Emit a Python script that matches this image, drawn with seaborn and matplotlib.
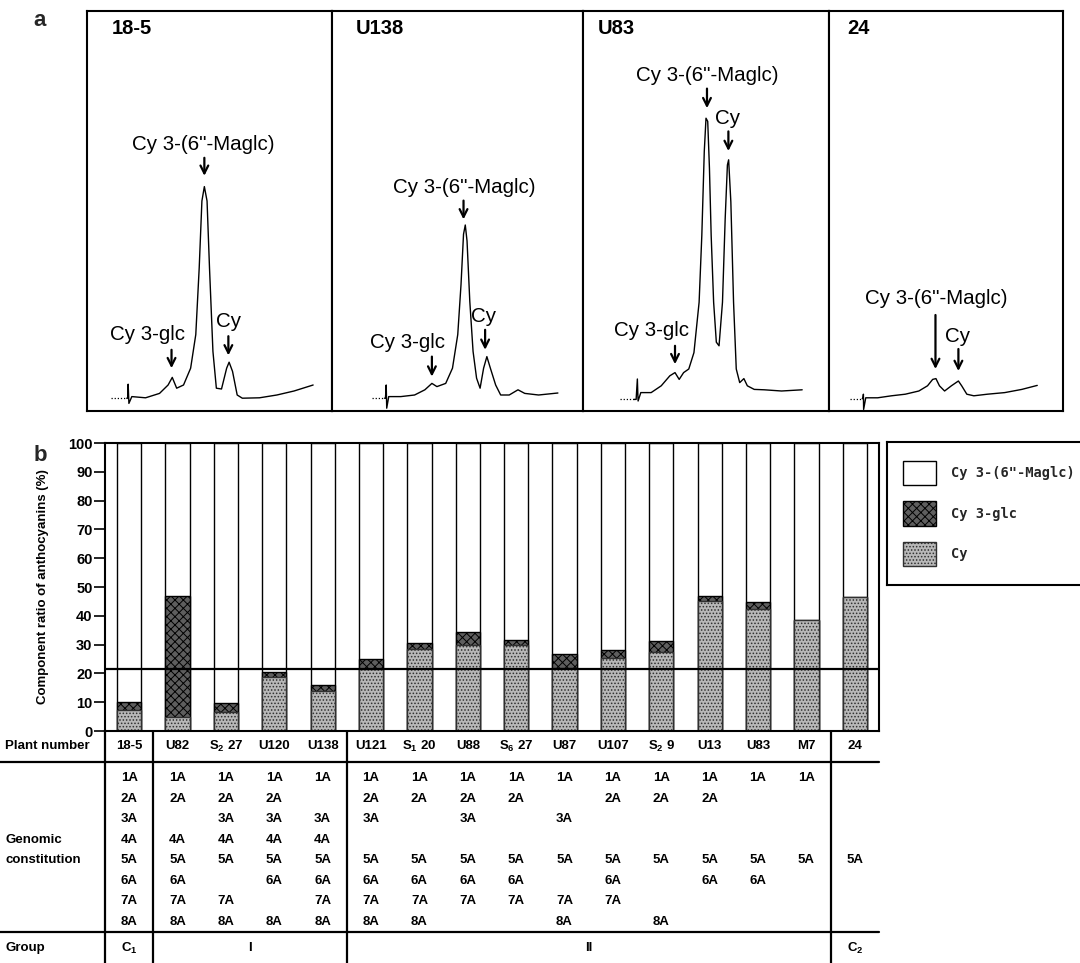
import numpy as np
import pandas as pd
import matplotlib
matplotlib.use('Agg')
import matplotlib.pyplot as plt
import seaborn as sns
from matplotlib.patches import Patch
from matplotlib.transforms import blended_transform_factory

sns.set_theme(style='white')
plt.rcParams['font.family'] = ['Liberation Sans', 'DejaVu Sans']
plt.rcParams['mathtext.fontset'] = 'custom'
plt.rcParams['mathtext.rm'] = 'Liberation Sans'
plt.rcParams['mathtext.bf'] = 'Liberation Sans:bold'
plt.rcParams['mathtext.default'] = 'bf'
plt.rcParams['hatch.linewidth'] = 0.7

# ---------------- data: panel a (chromatogram traces) ----------------
panel_titles = ['18-5', 'U138', 'U83', '24']

dot_18_5_x = [.096, .162]
dot_18_5_y = [.032, .032]
tr_18_5_x = [.162, .166, .168, .170, .171, .183, .239, .296, .331, .348, .366, .394, .423, .444, .458,
             .469, .479, .490, .500, .514, .528, .549, .570, .580, .594, .613, .634, .704, .775, .845, .923]
tr_18_5_y = [.032, .032, .067, .036, .019, .036, .033, .044, .065, .084, .057, .065, .107, .191, .358,
             .525, .561, .525, .358, .149, .057, .055, .107, .122, .099, .040, .032, .033, .040, .050, .065]

dot_u138_x = [.158, .209]
dot_u138_y = [.032, .032]
tr_u138_x = [.209, .213, .216, .217, .218, .226, .274, .329, .370, .398, .418, .453, .480, .501, .514,
             .524, .531, .538, .549, .562, .576, .590, .604, .617, .631, .652, .672, .706, .741, .768, .823, .900]
tr_u138_y = [.032, .032, .065, .036, .007, .036, .036, .040, .053, .069, .061, .069, .107, .191, .316,
             .442, .465, .425, .274, .149, .082, .057, .107, .136, .107, .065, .040, .040, .053, .044, .040, .045]

dot_u83_x = [.151, .207]
dot_u83_y = [.029, .029]
tr_u83_x = [.207, .216, .221, .223, .224, .235, .277, .318, .353, .374, .391, .409, .430, .451, .472,
            .483, .493, .500, .507, .514, .521, .531, .542, .553, .567, .578, .587, .592, .601, .612,
            .623, .637, .654, .668, .696, .737, .807, .891]
tr_u83_y = [.029, .029, .080, .040, .025, .046, .046, .063, .088, .096, .079, .096, .105, .146, .272,
            .439, .649, .732, .724, .607, .439, .272, .172, .163, .272, .481, .615, .628, .523, .272,
            .105, .071, .081, .063, .054, .053, .050, .053]

dot_24_x = [.091, .142]
dot_24_y = [.031, .031]
tr_24_x = [.142, .145, .147, .148, .157, .208, .267, .326, .384, .421, .443, .457, .472, .494, .523,
           .553, .567, .589, .619, .677, .751, .824, .890]
tr_24_y = [.031, .031, .042, .004, .033, .033, .038, .042, .050, .063, .079, .081, .063, .050, .063,
           .075, .063, .042, .038, .042, .046, .054, .064]

# ---------------- data: panel b ----------------
plants = ['18-5', 'U82', 'S$_2$ 27', 'U120', 'U138', 'U121', 'S$_1$ 20', 'U88', 'S$_6$ 27',
          'U87', 'U107', 'S$_2$ 9', 'U13', 'U83', 'M7', '24']
cy = [7.3, 4.8, 6.7, 18.9, 13.9, 21.7, 28.6, 30.0, 30.0, 22.0, 25.2, 27.4, 45.0, 42.5, 38.5, 46.5]
cy3glc = [2.7, 42.0, 2.9, 1.5, 2.1, 3.4, 2.0, 4.4, 1.5, 4.8, 2.8, 3.8, 1.8, 2.3, 0.0, 0.0]
maglc = [100 - a - b for a, b in zip(cy, cy3glc)]
reference_level = 21.7

chromosomes = ['1A', '2A', '3A', '4A', '5A', '6A', '7A', '8A']
genomes = [
    ['1A', '2A', '3A', '4A', '5A', '6A', '7A', '8A'],
    ['1A', '2A', '4A', '5A', '6A', '7A', '8A'],
    ['1A', '2A', '3A', '4A', '5A', '7A', '8A'],
    ['1A', '2A', '3A', '4A', '5A', '6A', '8A'],
    ['1A', '3A', '4A', '5A', '6A', '7A', '8A'],
    ['1A', '2A', '3A', '5A', '6A', '7A', '8A'],
    ['1A', '2A', '5A', '6A', '7A', '8A'],
    ['1A', '2A', '3A', '5A', '6A', '7A'],
    ['1A', '2A', '5A', '6A', '7A'],
    ['1A', '3A', '5A', '7A', '8A'],
    ['1A', '2A', '5A', '6A', '7A'],
    ['1A', '2A', '5A', '8A'],
    ['1A', '2A', '5A', '6A'],
    ['1A', '5A', '6A'],
    ['1A', '5A'],
    ['5A'],
]
group_labels = ['C$_1$', 'I', 'II', 'C$_2$']
group_spans = [(0, 0), (1, 4), (5, 14), (15, 15)]

legend_labels = ['Cy 3-(6"-Maglc)', 'Cy 3-glc', 'Cy']

# ---------------- layout ----------------
W, H = 1080, 963
def fx(px):
    return px / W
def fh(px):
    return px / H
def fy(py):
    return 1 - py / H

fig = plt.figure(figsize=(W / 100, H / 100), dpi=100)
fig.patch.set_facecolor('white')

# ---- panel a ----
edges = [87, 332, 583, 829, 1063]
a_top, a_bot = 11, 411
traces = [
    (dot_18_5_x, dot_18_5_y, tr_18_5_x, tr_18_5_y),
    (dot_u138_x, dot_u138_y, tr_u138_x, tr_u138_y),
    (dot_u83_x, dot_u83_y, tr_u83_x, tr_u83_y),
    (dot_24_x, dot_24_y, tr_24_x, tr_24_y),
]
title_x = [.099, .096, .060, .076]
annots = [
    [('Cy 3-(6"-Maglc)', .476, .665, .479, .633, .588),
     ('Cy 3-glc', .246, .191, .345, .153, .107),
     ('Cy', .577, .224, .577, .187, .139)],
    [('Cy 3-(6"-Maglc)', .528, .559, .524, .526, .479),
     ('Cy 3-glc', .302, .172, .398, .136, .086),
     ('Cy', .604, .237, .610, .203, .153)],
    [('Cy 3-(6"-Maglc)', .504, .839, .504, .806, .757),
     ('Cy', .588, .732, .591, .699, .650),
     ('Cy 3-glc', .277, .201, .374, .163, .117)],
    [('Cy 3-(6"-Maglc)', .457, .280, .455, .240, .105),
     ('Cy', .548, .186, .553, .155, .100)],
]
for k in range(4):
    ax = fig.add_axes([fx(edges[k]), fy(a_bot), fx(edges[k + 1] - edges[k]), fh(a_bot - a_top)])
    dx, dy, tx, ty = traces[k]
    sns.lineplot(x=dx, y=dy, sort=False, estimator=None, color='black', lw=0.9,
                 linestyle=(0, (1, 1.5)), ax=ax)
    sns.lineplot(x=tx, y=ty, sort=False, estimator=None, color='black', lw=1.0, ax=ax)
    ax.set_xlim(0, 1)
    ax.set_ylim(0, 1)
    ax.set_xticks([])
    ax.set_yticks([])
    ax.set_xlabel('')
    ax.set_ylabel('')
    for s in ax.spines.values():
        s.set_visible(True)
        s.set_color('black')
        s.set_linewidth(1.5)
    ax.text(title_x[k], .955, panel_titles[k], ha='left', va='center', fontsize=14.5,
            fontweight='bold', color='black')
    for (lab, lx, ly, axx, y0, y1) in annots[k]:
        ax.text(lx, ly, lab, ha='center', va='center', fontsize=14.8, color='black')
        ax.annotate('', xy=(axx, y1), xytext=(axx, y0),
                    arrowprops=dict(arrowstyle='->', lw=1.6, color='black',
                                    shrinkA=0, shrinkB=0, mutation_scale=14))

fig.text(fx(40), fy(20), 'a', fontsize=16, fontweight='bold', ha='center', va='center')
fig.text(fx(40), fy(455), 'b', fontsize=16, fontweight='bold', ha='center', va='center')

# ---- panel b: stacked bars ----
b_left, b_right, b_top, b_bot = 105, 879, 443, 731
axb = fig.add_axes([fx(b_left), fy(b_bot), fx(b_right - b_left), fh(b_bot - b_top)])
total = [a + b + c for a, b, c in zip(cy, cy3glc, maglc)]
lower2 = [a + b for a, b in zip(cy, cy3glc)]
df = pd.DataFrame({'plant': plants, 'total': total, 'lower2': lower2, 'cy': cy})

sns.barplot(data=df, x='plant', y='total', order=plants, color='white', saturation=1,
            edgecolor='black', linewidth=1.0, width=0.5, ax=axb)
sns.barplot(data=df, x='plant', y='lower2', order=plants, color='#5e5e5e', saturation=1,
            edgecolor='black', linewidth=1.0, width=0.5, ax=axb)
for p in axb.containers[1]:
    p.set_hatch('xxxx')
sns.barplot(data=df, x='plant', y='cy', order=plants, color='#b8b8b8', saturation=1,
            edgecolor='black', linewidth=1.0, width=0.5, ax=axb)
for p in axb.containers[2]:
    p.set_hatch('.....')
    p.set_edgecolor('#303030')

axb.axhline(reference_level, color='black', lw=1.6, zorder=6)
axb.set_xlim(-0.5, len(plants) - 0.5)
axb.set_ylim(0, 100)
axb.set_yticks(range(0, 101, 10))
axb.tick_params(axis='y', left=True, direction='out', length=8, width=1.2, labelsize=10.5,
                pad=1, colors='black')
axb.tick_params(axis='x', bottom=False, labelbottom=False)
for t in axb.get_yticklabels():
    t.set_fontweight('bold')
axb.set_xlabel('')
axb.set_ylabel('Component ratio of anthocyanins (%)', fontsize=9.5, fontweight='bold', color='black')
axb.yaxis.set_label_coords(-0.072, 0.5)
for s in axb.spines.values():
    s.set_visible(True)
    s.set_color('black')
    s.set_linewidth(1.5)

# ---- panel b: table ----
t_bot = 963
axt = fig.add_axes([fx(b_left), fy(t_bot), fx(b_right - b_left), fh(t_bot - b_bot)], sharex=axb)
axt.set_ylim(t_bot, b_bot)
axt.tick_params(left=False, bottom=False, labelleft=False, labelbottom=False)
axt.patch.set_alpha(0)
for name, s in axt.spines.items():
    s.set_visible(name == 'left')
    s.set_color('black')
    s.set_linewidth(1.6)

name_y = 746
line1_y = 762
row0_y, row_step = 778, 20.5
line2_y = 932
group_y = 948
row_y = {c: row0_y + row_step * i for i, c in enumerate(chromosomes)}

txt_kw = dict(ha='center', va='center', fontsize=9.5, fontweight='bold', color='black')
for i, (p, g) in enumerate(zip(plants, genomes)):
    axt.text(i, name_y, p, **txt_kw)
    for c in g:
        axt.text(i, row_y[c], c, **txt_kw)
for lab, (a, b) in zip(group_labels, group_spans):
    axt.text((a + b) / 2, group_y, lab, **txt_kw)

for xv in [0.5, 4.5, 14.5]:
    axt.axvline(xv, color='black', lw=1.6)

trans = blended_transform_factory(fig.transFigure, axt.transData)
for yv in [line1_y, line2_y]:
    axt.plot([0, fx(b_right)], [yv, yv], transform=trans, color='black', lw=1.6, clip_on=False)
left_kw = dict(ha='left', va='center', fontsize=9.5, fontweight='bold', color='black', transform=trans)
axt.text(fx(5), name_y, 'Plant number', **left_kw)
axt.text(fx(5), row_y['4A'], 'Genomic', **left_kw)
axt.text(fx(5), row_y['5A'], 'constitution', **left_kw)
axt.text(fx(5), group_y, 'Group', **left_kw)

# ---- legend ----
axl = fig.add_axes([fx(887), fy(585), fx(220), fh(585 - 442)])
axl.set_xticks([])
axl.set_yticks([])
for s in axl.spines.values():
    s.set_visible(True)
    s.set_color('black')
    s.set_linewidth(1.5)
handles = [Patch(facecolor='white', edgecolor='black', lw=1.0),
           Patch(facecolor='#5e5e5e', edgecolor='black', hatch='xxxx', lw=1.0),
           Patch(facecolor='#b8b8b8', edgecolor='#303030', hatch='.....', lw=1.0)]
axl.legend(handles, legend_labels, loc='center left', frameon=False,
           prop={'family': 'DejaVu Sans Mono', 'weight': 'bold', 'size': 9.8},
           handlelength=2.4, handleheight=2.35, labelspacing=1.2, handletextpad=1.1,
           borderpad=0.4, borderaxespad=0.8)

fig.savefig('out.png', dpi=100)
